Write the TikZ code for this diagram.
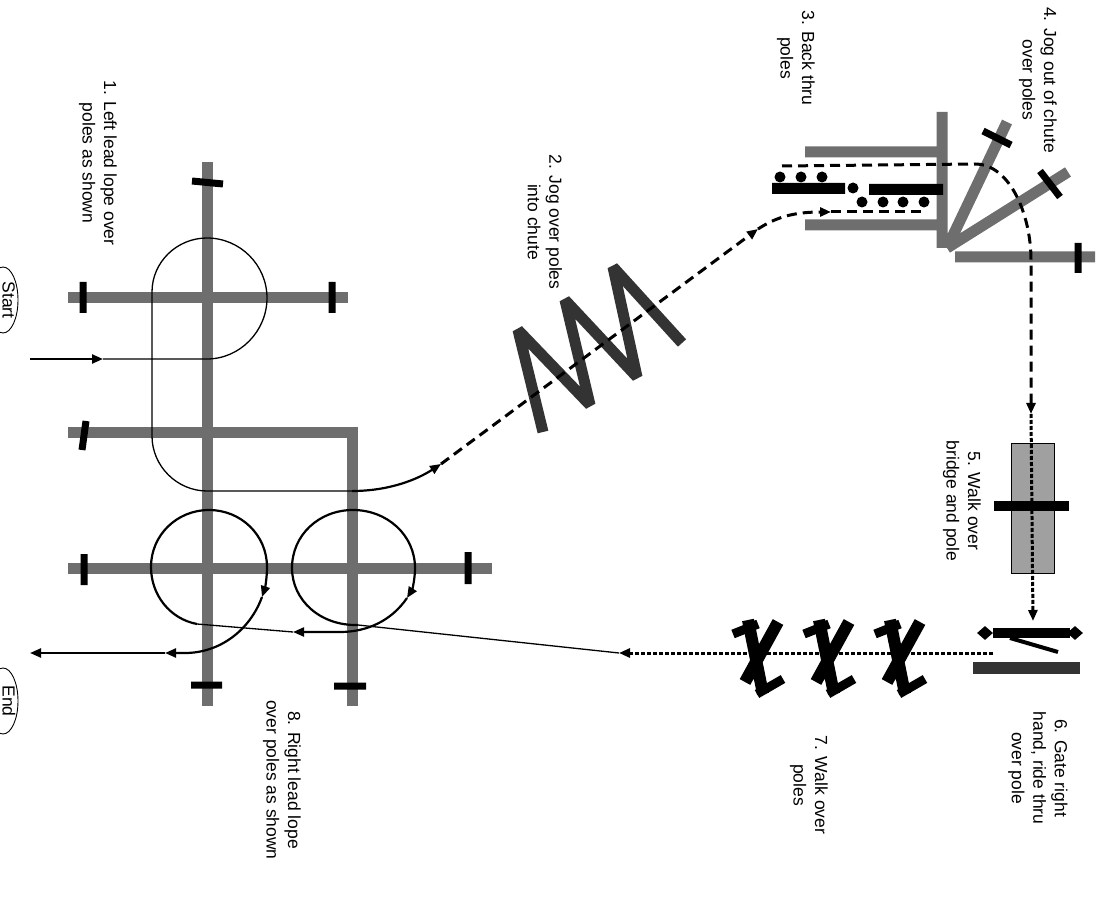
\documentclass[tikz,border=0pt]{standalone}
\usepackage{fontspec}
\setmainfont{Liberation Sans}
\usetikzlibrary{arrows.meta,shapes.geometric}
\definecolor{polegray}{HTML}{6E6E6E}
\definecolor{darkgray}{HTML}{333333}
\definecolor{bridgegray}{HTML}{A0A0A0}
\tikzset{
  pole/.style={draw=polegray,line width=11pt},
  darkbar/.style={draw=darkgray,line width=11pt},
  stopbar/.style={draw=black,line width=7pt},
  lead/.style={line width=1.3pt},
  ring/.style={line width=2.2pt},
  trail/.style={line width=3pt,dash pattern=on 10pt off 6pt},
  dotrail/.style={line width=3pt,dash pattern=on 4pt off 2pt},
  arrowed/.style={-{Triangle[length=11pt,width=9pt]}},
  note/.style={rotate=-90,align=center,inner sep=0pt,font=\fontsize{17.5}{21.5}\selectfont},
  startend/.style={draw,ellipse,rotate=-90,line width=0.9pt,inner sep=0pt,
    minimum width=66pt,minimum height=30pt,text height=11pt,text depth=10pt,
    font=\fontsize{17.5}{21}\selectfont}
}
\begin{document}
\begin{tikzpicture}[x=1pt,y=-1pt]
  \useasboundingbox (0,0) rectangle (1104,901);
  % left grid
  \draw[pole] (207,162) -- (207,706);
  \draw[pole] (68,298) -- (348,298);
  \draw[pole] (68,433) -- (352,433) -- (352,706);
  \draw[pole] (68,568) -- (492,568);
  \draw[stopbar] (192,181) -- (223,184) (83,282) -- (83,313) (332,282) -- (332,313)
    (86,421) -- (82,450) (84,554) -- (84,585) (468,552) -- (468,584)
    (191,685) -- (222,685) (334,686) -- (366,686);
  % zigzag
  \draw[darkbar,line join=bevel] (543,432) -- (518,330) -- (590,405) -- (565,300)
    -- (637,377) -- (613,267) -- (682,343);
  % chute
  \draw[pole] (805,152) -- (942,152) (805,225) -- (942,225) (942,112) -- (942,248)
    (947,248) -- (1007,122) (947,248) -- (1068,172) (955,257) -- (1095,257);
  \draw[stopbar] (983,131) -- (1011,145) (1040,171) -- (1060,197) (1078,243) -- (1078,273);
  \fill (772,183) rectangle (845,194) (869,184) rectangle (943,195) (853,188) circle[radius=5.5pt];
  \foreach \x in {780,801,822} \fill (\x,177) circle[radius=5.5pt];
  \foreach \x in {862,883,903,924} \fill (\x,202) circle[radius=5.5pt];
  % bridge
  \draw[fill=bridgegray,line width=0.8pt] (1011,443) rectangle (1054,573);
  \draw[line width=10pt] (994,506) -- (1069,506);
  % gate
  \draw[line width=10pt] (993,633) -- (1070,633);
  \node[diamond,fill,inner sep=0pt,minimum width=16pt,minimum height=14pt] (gl) at (985,633) {};
  \node[diamond,fill,inner sep=0pt,minimum width=16pt,minimum height=14pt] (gr) at (1075,633) {};
  \draw[line width=4pt] (1010,638) -- (1058,652);
  \draw[darkbar,line width=12pt] (973,668) -- (1080,668);
  % poles to walk over
  \foreach \x in {758,829,900} {
    \draw[line width=12pt] (\x-10,620) -- (\x+5,694) (\x+20,622) -- (\x-13,682);
    \draw[line width=9pt] (\x-25,634) -- (\x,624) (\x-1,694) -- (\x+25,679);
  }
  % route
  \coordinate (s0) at (30,359);
  \coordinate (s1) at (103,359);
  \coordinate (s2) at (352,491);
  \coordinate (s3) at (441,464);
  \coordinate (s4) at (758,229);
  \coordinate (s5) at (831,212);
  \coordinate (s6) at (927,212);
  \coordinate (b0) at (782,166);
  \coordinate (b1) at (1031,414);
  \coordinate (b2) at (1033,621);
  \coordinate (g0) at (993,653);
  \coordinate (g1) at (619,653);
  \coordinate (r0) at (358,625);
  \coordinate (r1) at (407,598);
  \coordinate (r2) at (293,632);
  \coordinate (l0) at (197,624);
  \coordinate (l1) at (262,597);
  \coordinate (l2) at (165,653);
  \coordinate (e0) at (30,653);
  \draw[ring,arrowed] (s0) -- (s1);
  \draw[lead] (s1) -- (207,359) .. controls (240,359) and (267,331) .. (267,298)
    .. controls (267,265) and (240,238) .. (207,238) .. controls (177,238) and (152,262) .. (152,292)
    -- (152,436) .. controls (152,466) and (177,491) .. (207,491) -- (s2);
  \draw[ring,arrowed] (s2) .. controls (390,491) and (418,479) .. (s3);
  \draw[trail,arrowed] (s3) -- (s4);
  \draw[trail,arrowed] (s4) .. controls (775,218) and (792,212) .. (s5);
  \draw[trail] (s5) -- (s6);
  \draw[trail,arrowed] (b0) -- (975,164) .. controls (1010,164) and (1031,215) .. (1031,260) -- (b1);
  \draw[dotrail,arrowed] (b1) -- (b2);
  \draw[dotrail,arrowed] (g0) -- (g1);
  \draw[lead] (g1) -- (r0);
  \draw[ring,arrowed] (r0) .. controls (320,626) and (292,600) .. (292,568)
    .. controls (292,535) and (319,510) .. (353,510) .. controls (387,510) and (415,535) .. (415,568)
    .. controls (415,580) and (412,590) .. (r1);
  \draw[ring,arrowed] (r1) .. controls (392,620) and (368,632) .. (340,632) -- (r2);
  \draw[lead] (r2) -- (l0);
  \draw[ring,arrowed] (l0) .. controls (170,619) and (151,595) .. (151,567)
    .. controls (151,535) and (177,510) .. (209,510) .. controls (241,510) and (267,535) .. (267,567)
    .. controls (267,578) and (265,588) .. (l1);
  \draw[ring,arrowed] (l1) .. controls (250,630) and (220,653) .. (185,653) -- (l2);
  \draw[ring,arrowed] (l2) -- (e0);
  % texts
  \node[note] (n1) at (98,163) {1. Left lead lope over\\poles as shown};
  \node[note] (n2) at (545,222) {2. Jog over poles\\into chute};
  \node[note] (n3) at (796,58) {3. Back thru\\poles};
  \node[note] (n4) at (1038,80) {4. Jog out of chute\\over poles};
  \node[note] (n5) at (962,501) {5. Walk over\\bridge and pole};
  \node[note] (n6) at (1038,768) {6. Gate right\\hand, ride thru\\over pole};
  \node[note] (n7) at (809,785) {7. Walk over\\poles};
  \node[note] (n8) at (282,780) {8. Right lead lope\\over poles as shown};
  \node[startend] (start) at (3,300) {Start};
  \node[startend] (end) at (3,701) {End};
\end{tikzpicture}
\end{document}
